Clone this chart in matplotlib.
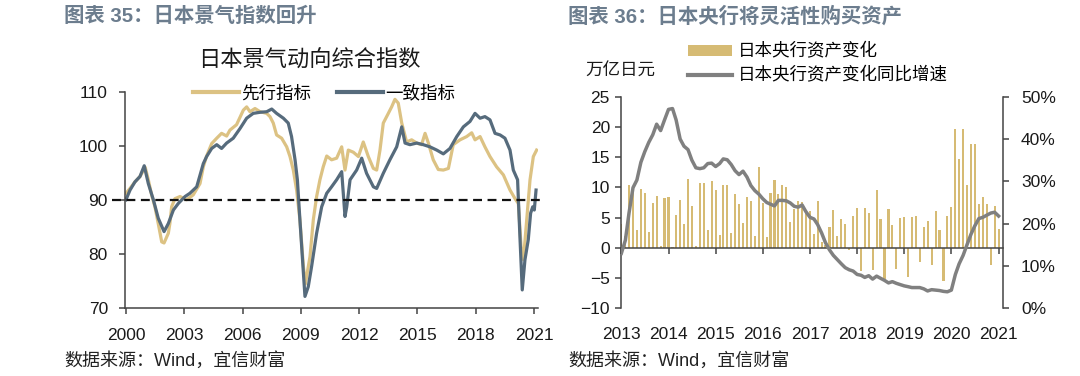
import pandas as pd
import matplotlib.pyplot as plt
from matplotlib.patches import Patch
from matplotlib.lines import Line2D
from matplotlib.ticker import FuncFormatter
import matplotlib.dates as mdates

plt.rcParams['font.family'] = ['Liberation Sans', 'Noto Sans CJK SC']

# ---- left chart: Japan composite index (decimal years)
lead_t = [2000.00, 2000.21, 2000.46, 2000.72, 2000.99, 2001.15, 2001.32, 2001.49, 2001.66, 2001.84,
          2001.96, 2002.18, 2002.26, 2002.35, 2002.52, 2002.78, 2003.12, 2003.46, 2003.81, 2003.98,
          2004.15, 2004.41, 2004.67, 2004.92, 2005.18, 2005.35, 2005.69, 2006.04, 2006.21, 2006.38,
          2006.64, 2006.90, 2007.24, 2007.41, 2007.58, 2007.75, 2008.01, 2008.27, 2008.44, 2008.61,
          2008.78, 2008.95, 2009.13, 2009.23, 2009.47, 2009.64, 2009.81, 2009.98, 2010.15, 2010.33,
          2010.58, 2010.84, 2011.10, 2011.27, 2011.44, 2011.70, 2011.96, 2012.21, 2012.47, 2012.73,
          2012.90, 2013.07, 2013.24, 2013.50, 2013.67, 2013.84, 2014.01, 2014.19, 2014.44, 2014.70,
          2014.96, 2015.21, 2015.39, 2015.56, 2015.81, 2016.07, 2016.33, 2016.59, 2016.84, 2017.19,
          2017.53, 2017.79, 2017.96, 2018.22, 2018.47, 2018.73, 2019.07, 2019.42, 2019.76, 2020.02,
          2020.19, 2020.33, 2020.45, 2020.62, 2020.79, 2020.96, 2021.13]
lead_v = [91.3, 92.2, 93.4, 94.4, 96.1, 93.8, 91.0, 88.8, 85.7, 82.3,
          82.1, 83.9, 85.7, 88.8, 90.3, 90.7, 90.1, 91.0, 93.1, 96.2,
          98.2, 100.5, 101.5, 102.4, 101.9, 103.0, 104.0, 106.7, 107.3, 106.4,
          107.0, 106.4, 106.1, 105.5, 104.3, 102.1, 101.5, 99.9, 98.1, 95.6,
          91.9, 86.4, 77.7, 74.5, 79.6, 86.4, 90.7, 93.8, 96.2, 98.2,
          97.5, 97.8, 99.9, 95.6, 99.3, 98.9, 98.1, 100.8, 98.1, 95.9,
          95.6, 99.3, 104.3, 106.1, 107.3, 108.7, 108.0, 104.3, 100.8, 101.2,
          100.6, 100.3, 102.4, 100.6, 97.5, 95.7, 95.6, 95.9, 100.3, 101.2,
          101.8, 102.5, 101.2, 101.8, 99.9, 98.1, 96.2, 94.7, 91.9, 90.3,
          89.4, 81.4, 79.0, 86.4, 93.8, 98.1, 99.3]

coin_t = [2000.00, 2000.21, 2000.46, 2000.72, 2000.94, 2001.15, 2001.41, 2001.66, 2001.96, 2002.18,
          2002.44, 2002.69, 2003.04, 2003.29, 2003.64, 2003.98, 2004.15, 2004.41, 2004.67, 2004.92,
          2005.18, 2005.52, 2005.87, 2006.21, 2006.55, 2006.90, 2007.24, 2007.50, 2007.75, 2008.10,
          2008.35, 2008.52, 2008.70, 2008.82, 2008.95, 2009.13, 2009.21, 2009.38, 2009.55, 2009.81,
          2010.07, 2010.33, 2010.58, 2010.84, 2011.10, 2011.27, 2011.36, 2011.53, 2011.87, 2012.13,
          2012.38, 2012.73, 2012.90, 2013.24, 2013.58, 2013.93, 2014.19, 2014.36, 2014.61, 2014.96,
          2015.30, 2015.64, 2015.99, 2016.33, 2016.67, 2017.02, 2017.36, 2017.70, 2017.96, 2018.22,
          2018.47, 2018.73, 2018.99, 2019.25, 2019.50, 2019.76, 2019.93, 2020.15, 2020.27, 2020.39,
          2020.53, 2020.70, 2020.82, 2020.93, 2021.01, 2021.10]
coin_v = [90.1, 91.9, 93.4, 94.4, 96.4, 93.1, 90.1, 86.7, 84.2, 85.7,
          88.2, 89.4, 90.7, 91.3, 92.5, 96.8, 98.1, 99.6, 100.3, 99.6,
          100.6, 101.5, 103.3, 105.2, 106.1, 106.3, 106.4, 106.9, 106.1, 105.2,
          104.3, 101.8, 97.5, 93.8, 86.4, 76.5, 72.2, 74.0, 77.7, 83.9,
          88.8, 91.3, 92.5, 93.8, 95.3, 87.0, 88.8, 93.8, 95.6, 97.8,
          95.0, 92.5, 92.2, 95.0, 97.5, 99.9, 103.6, 100.6, 100.3, 100.6,
          100.3, 99.9, 99.3, 98.6, 99.6, 101.8, 103.6, 104.6, 106.1, 105.2,
          105.5, 104.9, 102.4, 102.1, 101.5, 99.3, 95.6, 93.8, 83.3, 73.4,
          79.0, 82.7, 87.6, 88.8, 88.2, 91.9]

# ---- right chart: BoJ assets, monthly Jan 2013 - Jan 2021
months = pd.date_range('2013-01-01', '2021-01-01', freq='MS')
asset_chg = [3.9, 2.0, 10.4, 9.0, 2.9, 9.7, 9.1, 2.6, 7.4, 8.6, 0.3, 8.2,
             8.4, 0.2, 5.4, 7.9, 3.9, 11.4, 7.0, 0.3, 10.7, 10.7, 3.0, 11.1,
             9.5, 2.2, 10.4, 10.4, 2.4, 8.9, 7.3, 4.1, 8.4, 7.8, 1.9, 13.4,
             7.4, 1.8, 9.1, 11.3, 8.9, 10.4, 10.0, 4.2, 6.4, 7.7, 7.5, 5.8,
             6.1, 2.3, 7.8, 1.0, 0.5, 3.5, 6.2, 1.9, 4.8, 4.0, -0.4, 5.3,
             6.6, -3.8, 6.6, 5.8, -3.7, 9.5, 4.7, -5.1, 6.4, 3.8, -3.5, 5.0,
             5.1, -4.8, 5.1, 5.2, -2.4, 3.5, 4.5, -2.9, 6.1, 3.0, -5.5, 5.3,
             6.7, 19.7, 14.7, 19.7, 10.4, 17.1, 17.1, 7.3, 8.4, 7.2, -2.8, 7.0,
             3.1]
asset_yoy = [13.0, 16.1, 22.5, 28.5, 30.3, 34.5, 37.0, 39.2, 41.0, 43.5, 42.0, 44.5,
             47.0, 47.2, 44.5, 40.0, 38.3, 37.5, 35.0, 33.2, 33.0, 33.2, 34.2, 34.3,
             33.5, 34.2, 35.3, 35.1, 34.0, 32.5, 31.6, 32.4, 31.0, 29.0, 27.8, 27.0,
             25.9, 25.0, 24.6, 24.2, 25.5, 25.5, 25.4, 24.9, 24.1, 23.9, 24.4, 22.8,
             21.5, 21.1, 19.8, 17.8, 15.5, 13.8, 12.5, 11.5, 10.5, 9.6, 9.1, 8.8,
             8.0, 7.8, 7.3, 7.7, 6.9, 7.6, 7.1, 6.6, 6.0, 6.3, 5.9, 5.6,
             5.3, 5.1, 4.9, 4.9, 4.9, 4.6, 4.1, 4.4, 4.3, 4.2, 4.0, 3.9,
             4.3, 8.0, 10.5, 12.5, 15.0, 17.5, 19.5, 21.2, 21.5, 22.0, 22.5, 22.7,
             21.8]

GOLD = '#DCC283'
SLATE = '#566b7c'
BAR = '#D6BB74'
GRAY = '#808080'
TITLE_C = '#6c7d8e'
SPINE_C = '#444444'
TICK_FS = 12.5

fig = plt.figure(figsize=(10.8, 3.76), dpi=100)
W, H = 1080, 376

# ================= left chart =================
ax1 = fig.add_axes([124.6 / W, 1 - 308.3 / H, 413 / W, 216 / H])
ax1.plot(lead_t, lead_v, color=GOLD, lw=2.3, label='先行指标')
ax1.plot(coin_t, coin_v, color=SLATE, lw=2.3, label='一致指标')
ax1.axhline(90, xmin=-0.03, xmax=1.01, color='#111111', lw=1.6,
            linestyle=(0, (4, 2.5)), clip_on=False, zorder=5)
ax1.set_xlim(1999.93, 2021.18)
ax1.set_ylim(70, 110)
ax1.set_xticks(range(2000, 2022, 3))
ax1.set_yticks(range(70, 111, 10))
for s in ['top', 'right']:
    ax1.spines[s].set_visible(False)
for s in ['left', 'bottom']:
    ax1.spines[s].set_color(SPINE_C)
    ax1.spines[s].set_linewidth(1.1)
ax1.tick_params(axis='both', labelsize=TICK_FS, color=SPINE_C, length=4, width=1.1,
                labelcolor='#1a1a1a')
ax1.tick_params(axis='x', pad=10)
ax1.tick_params(axis='y', pad=8)

fig.text(309 / W, 1 - 61 / H, '日本景气动向综合指数', ha='center', va='center',
         fontsize=16, color='#1a1a1a')
fig.legend(handles=[Line2D([], [], color=GOLD, lw=3), Line2D([], [], color=SLATE, lw=3)],
           labels=['先行指标', '一致指标'], ncol=2, frameon=False, fontsize=12.6,
           loc='upper left', bbox_to_anchor=(193 / W, 1 - 84.5 / H),
           borderpad=0, borderaxespad=0, handlelength=2.6, handletextpad=0.15,
           columnspacing=1.5)

# ================= right chart =================
ax2 = fig.add_axes([621 / W, 1 - 308.3 / H, 382 / W, 211.6 / H])
ax2.bar(months, asset_chg, width=16, color=BAR, zorder=2)
ax2.set_ylim(-10, 25)
ax2.set_yticks(range(-10, 26, 5))
ax2.set_xlim(pd.Timestamp('2012-12-29'), pd.Timestamp('2021-02-04'))
ax2.xaxis.set_major_locator(mdates.YearLocator())
ax2.xaxis.set_major_formatter(mdates.DateFormatter('%Y'))
ax2.spines['top'].set_visible(False)
ax2.spines['right'].set_visible(False)
ax2.spines['bottom'].set_position(('data', 0))
for s in ['left', 'bottom']:
    ax2.spines[s].set_color(SPINE_C)
    ax2.spines[s].set_linewidth(1.1)
ax2.tick_params(axis='both', labelsize=TICK_FS, color=SPINE_C, length=4, width=1.1,
                labelcolor='#1a1a1a')
ax2.tick_params(axis='x', pad=53)
ax2.tick_params(axis='y', pad=4)

ax3 = ax2.twinx()
ax3.plot(months, asset_yoy, color=GRAY, lw=2.5, zorder=3)
ax3.set_ylim(0, 50)
ax3.set_yticks(range(0, 51, 10))
ax3.yaxis.set_major_formatter(FuncFormatter(lambda v, p: f'{v:.0f}%'))
for s in ['top', 'bottom', 'left']:
    ax3.spines[s].set_visible(False)
ax3.spines['right'].set_color(SPINE_C)
ax3.spines['right'].set_linewidth(1.1)
ax3.tick_params(axis='y', labelsize=TICK_FS, color=SPINE_C, length=4, width=1.1,
                labelcolor='#1a1a1a', pad=9)

fig.text(585 / W, 1 - 71 / H, '万亿日元', ha='left', va='center', fontsize=12.6,
         color='#1a1a1a')
fig.legend(handles=[Patch(facecolor=BAR, edgecolor='none'), Line2D([], [], color=GRAY, lw=3)],
           labels=['日本央行资产变化', '日本央行资产变化同比增速'], frameon=False,
           fontsize=12.6, loc='upper left', bbox_to_anchor=(688 / W, 1 - 42.5 / H),
           borderpad=0, borderaxespad=0, handlelength=2.5, handleheight=0.65,
           handletextpad=0.35, labelspacing=0.4)

# ================= titles and sources =================
fig.text(64 / W, 1 - 16 / H, '图表 35：日本景气指数回升', ha='left', va='center',
         fontsize=14.7, color=TITLE_C, fontweight='bold')
fig.text(568 / W, 1 - 16 / H, '图表 36：日本央行将灵活性购买资产', ha='left', va='center',
         fontsize=14.7, color=TITLE_C, fontweight='bold')
fig.text(64 / W, 1 - 361 / H, '数据来源：Wind，宜信财富', ha='left', va='center',
         fontsize=13, color='#222222')
fig.text(568 / W, 1 - 361 / H, '数据来源：Wind，宜信财富', ha='left', va='center',
         fontsize=13, color='#222222')

fig.savefig('out.png', dpi=100)
